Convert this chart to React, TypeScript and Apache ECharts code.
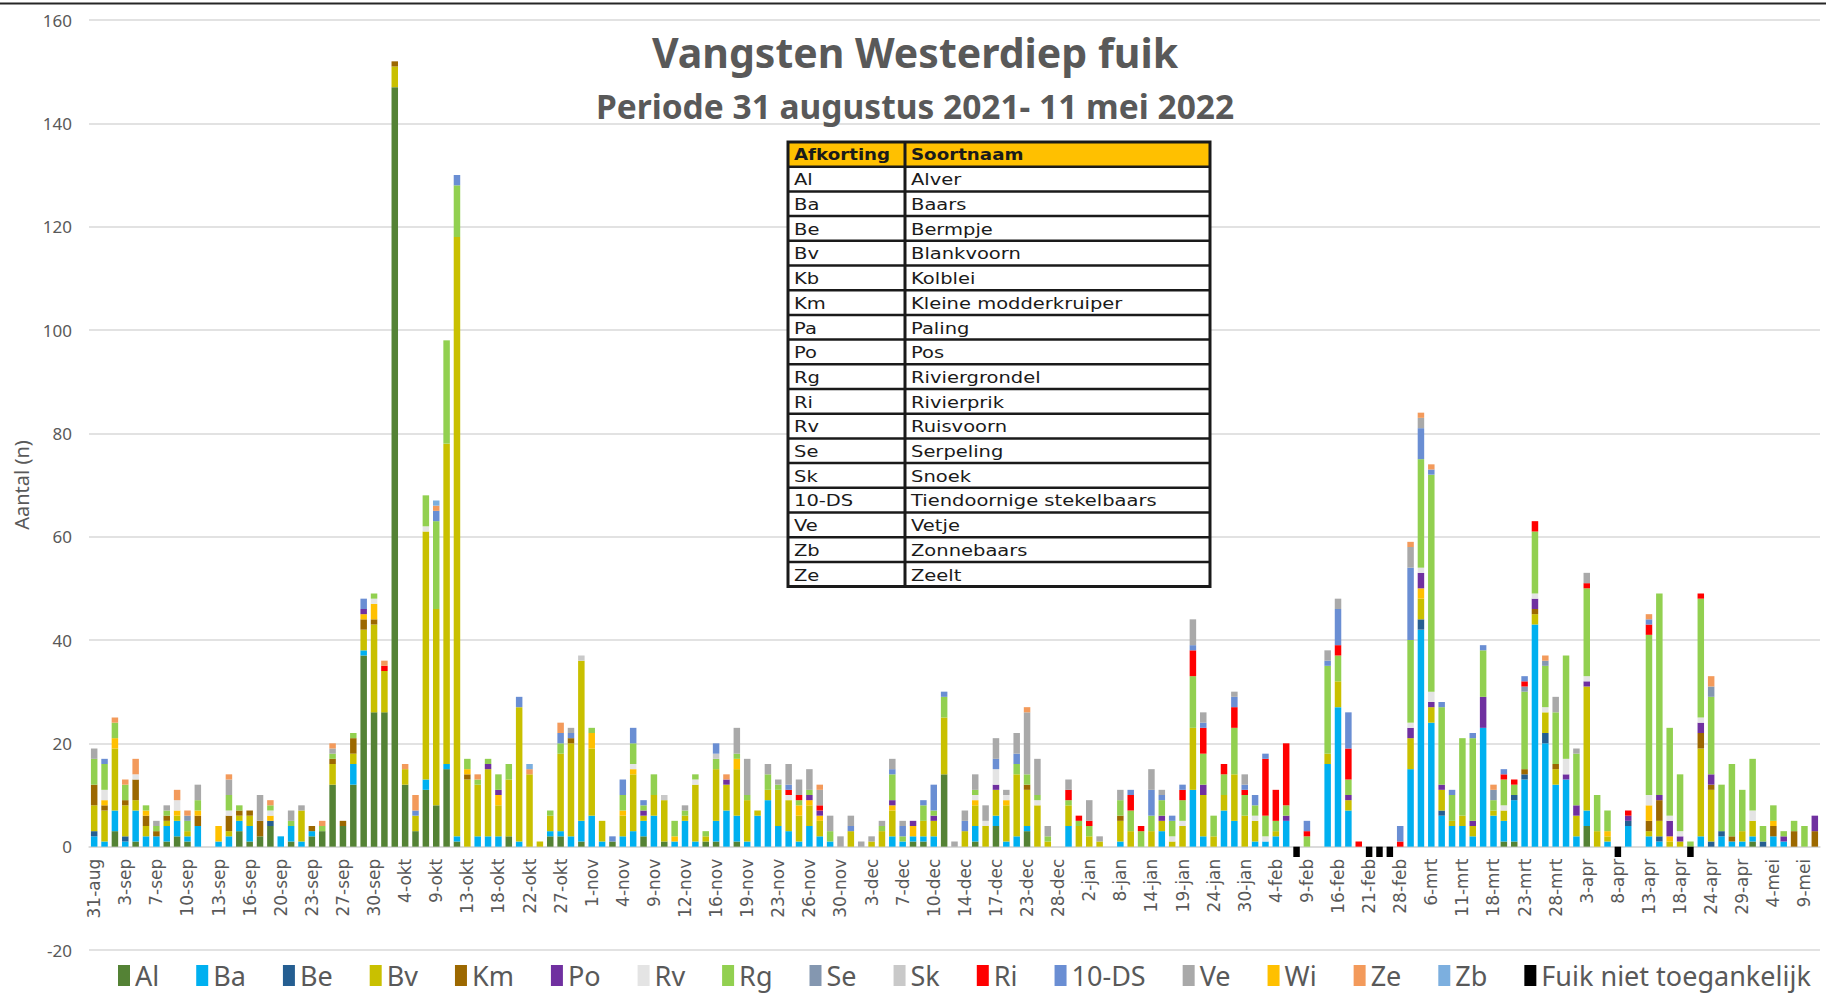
import React, { useEffect, useRef } from "react";
import * as echarts from "echarts";

// ---------- categories (sampling dates) ----------
const categories: string[] = [
  "31-aug", "1-sep", "2-sep", "3-sep", "5-sep", "6-sep", "7-sep", "8-sep", "9-sep", "10-sep", "11-sep", "12-sep",
  "13-sep", "14-sep", "15-sep", "16-sep", "17-sep", "19-sep", "20-sep", "21-sep", "22-sep", "23-sep", "24-sep", "26-sep",
  "27-sep", "28-sep", "29-sep", "30-sep", "1-okt", "3-okt", "4-okt", "6-okt", "8-okt", "9-okt", "11-okt", "12-okt",
  "13-okt", "15-okt", "17-okt", "18-okt", "19-okt", "21-okt", "22-okt", "24-okt", "26-okt", "27-okt", "29-okt", "31-okt",
  "1-nov", "2-nov", "3-nov", "4-nov", "6-nov", "8-nov", "9-nov", "10-nov", "11-nov", "12-nov", "14-nov", "15-nov",
  "16-nov", "17-nov", "18-nov", "19-nov", "21-nov", "22-nov", "23-nov", "24-nov", "25-nov", "26-nov", "28-nov", "29-nov",
  "30-nov", "1-dec", "2-dec", "3-dec", "5-dec", "6-dec", "7-dec", "8-dec", "9-dec", "10-dec", "12-dec", "13-dec",
  "14-dec", "15-dec", "16-dec", "17-dec", "20-dec", "22-dec", "23-dec", "26-dec", "27-dec", "28-dec", "30-dec", "31-dec",
  "2-jan", "4-jan", "6-jan", "8-jan", "10-jan", "12-jan", "14-jan", "16-jan", "17-jan", "19-jan", "21-jan", "22-jan",
  "24-jan", "26-jan", "28-jan", "30-jan", "1-feb", "3-feb", "4-feb", "6-feb", "7-feb", "9-feb", "12-feb", "14-feb",
  "16-feb", "18-feb", "20-feb", "21-feb", "23-feb", "25-feb", "28-feb", "2-mrt", "4-mrt", "6-mrt", "8-mrt", "10-mrt",
  "11-mrt", "14-mrt", "16-mrt", "18-mrt", "20-mrt", "21-mrt", "23-mrt", "25-mrt", "26-mrt", "28-mrt", "30-mrt", "1-apr",
  "3-apr", "5-apr", "6-apr", "8-apr", "10-apr", "12-apr", "13-apr", "15-apr", "16-apr", "18-apr", "20-apr", "22-apr",
  "24-apr", "26-apr", "27-apr", "29-apr", "1-mei", "3-mei", "4-mei", "6-mei", "8-mei", "9-mei", "11-mei",
];

// ---------- catches per species: [category index, count] ----------
const Al: [number, number][] = [
  [2, 3], [4, 1], [7, 1], [8, 2], [9, 1], [14, 3], [15, 1], [16, 2], [17, 4], [19, 1], [21, 2], [22, 3], [23, 12], [24, 4],
  [25, 12], [26, 37], [27, 26], [28, 26], [29, 147], [30, 12], [31, 3], [32, 11], [33, 8], [34, 15], [35, 1], [40, 2],
  [44, 2], [45, 2], [47, 1], [50, 1], [53, 2], [55, 1], [59, 1], [60, 1], [62, 1], [79, 1], [80, 1], [82, 14], [85, 1],
  [87, 4], [90, 3], [136, 1], [137, 1], [144, 4], [160, 1],
];
const Ba: [number, number][] = [
  [0, 2], [1, 1], [2, 4], [3, 1], [4, 6], [5, 2], [6, 2], [7, 3], [8, 3], [9, 1], [10, 4], [12, 1], [13, 2], [14, 2],
  [15, 3], [18, 2], [19, 3], [20, 1], [21, 1], [25, 4], [26, 1], [32, 2], [34, 1], [35, 1], [37, 2], [38, 2], [39, 2],
  [41, 1], [44, 1], [45, 1], [46, 2], [47, 4], [48, 6], [49, 1], [51, 2], [52, 3], [53, 3], [54, 6], [56, 1], [57, 5],
  [58, 1], [60, 4], [61, 7], [62, 5], [63, 1], [64, 6], [65, 9], [66, 4], [67, 3], [68, 1], [69, 4], [70, 2], [71, 1],
  [77, 2], [78, 1], [79, 1], [80, 1], [81, 2], [85, 3], [87, 2], [88, 1], [89, 2], [90, 1], [94, 4], [99, 1], [103, 3],
  [106, 11], [107, 2], [109, 7], [110, 5], [112, 1], [113, 1], [114, 2], [115, 5], [119, 16], [120, 27], [121, 7],
  [127, 15], [128, 42], [129, 24], [130, 6], [131, 4], [132, 4], [133, 2], [134, 23], [135, 6], [136, 4], [137, 8],
  [138, 13], [139, 43], [140, 20], [141, 12], [142, 13], [143, 2], [144, 3], [146, 1], [148, 4], [150, 2], [151, 1],
  [155, 2], [157, 2], [158, 1], [159, 1], [160, 1], [162, 2], [163, 1],
];
const Be: [number, number][] = [
  [0, 1], [3, 1], [17, 1], [128, 2], [130, 1], [137, 1], [138, 1], [140, 2], [148, 1], [151, 1], [156, 1], [157, 1], [161, 1],
];
const Bv: [number, number][] = [
  [0, 5], [1, 6], [2, 12], [3, 6], [4, 2], [5, 2], [7, 1], [8, 1], [9, 1], [13, 1], [14, 1], [15, 2], [20, 6], [23, 4],
  [25, 2], [26, 4], [27, 17], [28, 8], [29, 4], [30, 3], [31, 3], [32, 48], [33, 38], [34, 62], [35, 116], [36, 13],
  [37, 10], [38, 13], [39, 6], [40, 11], [41, 26], [42, 14], [43, 1], [44, 3], [45, 15], [46, 18], [47, 31], [48, 13],
  [49, 4], [51, 4], [52, 11], [53, 1], [54, 4], [55, 8], [57, 1], [58, 11], [59, 1], [60, 10], [61, 5], [62, 9], [63, 8],
  [64, 1], [65, 2], [66, 7], [67, 6], [68, 5], [69, 4], [70, 3], [73, 3], [75, 1], [76, 3], [77, 5], [80, 3], [81, 3],
  [82, 11], [84, 3], [85, 4], [86, 4], [87, 5], [88, 7], [89, 12], [90, 7], [91, 8], [92, 1], [94, 4], [95, 4], [96, 2],
  [97, 1], [99, 4], [100, 3], [102, 3], [103, 2], [104, 1], [105, 4], [106, 12], [107, 8], [108, 2], [109, 3], [110, 9],
  [111, 6], [112, 4], [114, 1], [119, 2], [120, 5], [121, 2], [127, 6], [128, 4], [129, 3], [130, 4], [131, 1], [132, 2],
  [133, 2], [135, 1], [136, 2], [139, 2], [140, 4], [141, 3], [143, 4], [144, 24], [145, 3], [146, 1], [150, 1], [151, 3],
  [152, 1], [153, 1], [155, 17], [156, 10], [159, 2], [160, 3],
];
const Km: [number, number][] = [
  [0, 4], [1, 1], [3, 1], [4, 4], [5, 2], [6, 1], [7, 1], [10, 2], [13, 3], [14, 1], [15, 1], [16, 3], [21, 1], [23, 1],
  [24, 1], [25, 3], [26, 2], [27, 1], [29, 1], [36, 1], [46, 1], [90, 1], [99, 1], [138, 1], [139, 1], [141, 1], [150, 2],
  [151, 4], [155, 3], [156, 1], [158, 1], [162, 2], [164, 3], [166, 3],
];
const Wi: [number, number][] = [
  [1, 1], [2, 2], [5, 1], [8, 1], [10, 1], [12, 3], [17, 1], [26, 1], [27, 3], [36, 1], [39, 2], [48, 3], [51, 1], [52, 1],
  [56, 1], [62, 2], [68, 2], [69, 1], [70, 1], [77, 1], [79, 2], [85, 1], [88, 1], [128, 2], [146, 1], [150, 3], [152, 1],
  [162, 1],
];
const Po: [number, number][] = [
  [26, 1], [38, 1], [39, 1], [53, 1], [61, 1], [69, 1], [70, 1], [77, 1], [79, 1], [81, 1], [87, 1], [103, 1], [107, 2],
  [115, 1], [121, 1], [127, 2], [128, 3], [129, 1], [130, 1], [133, 1], [134, 6], [139, 2], [142, 1], [143, 2], [144, 1],
  [148, 1], [151, 1], [152, 3], [153, 1], [155, 2], [156, 2], [163, 1], [166, 3],
];
const Rv: [number, number][] = [
  [1, 2], [4, 1], [8, 2], [13, 1], [17, 1], [27, 1], [32, 1], [52, 1], [58, 1], [67, 1], [85, 1], [86, 1], [87, 3], [88, 1],
  [91, 1], [104, 1], [105, 1], [112, 1], [113, 1], [127, 1], [128, 1], [129, 2], [136, 1], [139, 1], [140, 1], [142, 3],
  [144, 1], [150, 2], [152, 1], [153, 1], [155, 1], [160, 2],
];
const Rg: [number, number][] = [
  [0, 5], [1, 5], [2, 3], [3, 3], [5, 1], [6, 1], [7, 1], [9, 2], [10, 2], [13, 3], [14, 1], [17, 1], [19, 1], [22, 1],
  [23, 1], [25, 1], [27, 1], [32, 6], [33, 17], [34, 20], [35, 10], [36, 2], [37, 1], [38, 1], [39, 3], [40, 3], [44, 1],
  [45, 2], [48, 1], [51, 3], [52, 4], [53, 1], [54, 4], [56, 3], [57, 1], [58, 1], [59, 1], [60, 2], [62, 1], [63, 1],
  [65, 3], [66, 1], [68, 1], [69, 1], [71, 2], [76, 1], [77, 5], [78, 1], [80, 3], [81, 1], [82, 4], [85, 1], [89, 2],
  [90, 2], [91, 1], [92, 1], [94, 1], [95, 1], [96, 2], [99, 3], [100, 4], [101, 3], [102, 3], [103, 3], [104, 3],
  [105, 4], [106, 10], [107, 6], [108, 4], [109, 4], [110, 9], [111, 4], [112, 2], [113, 4], [114, 2], [115, 2], [117, 2],
  [119, 17], [120, 5], [121, 3], [127, 16], [128, 21], [129, 42], [130, 15], [131, 5], [132, 15], [133, 16], [134, 9],
  [135, 2], [136, 5], [137, 2], [138, 15], [139, 12], [140, 8], [141, 10], [142, 20], [143, 10], [144, 17], [145, 7],
  [146, 4], [150, 31], [151, 39], [152, 17], [153, 11], [154, 1], [155, 23], [156, 15], [157, 9], [158, 14], [159, 8],
  [160, 10], [161, 3], [162, 3], [163, 1], [164, 2], [165, 4],
];
const Se: [number, number][] = [[9, 1], [135, 2], [138, 1], [140, 1], [156, 2]];
const Sk: [number, number][] = [[47, 1], [55, 1], [60, 1]];
const Ri: [number, number][] = [
  [28, 1], [67, 1], [68, 1], [70, 1], [94, 2], [95, 1], [96, 1], [100, 3], [101, 1], [105, 2], [106, 5], [107, 5], [109, 2],
  [110, 4], [111, 1], [113, 11], [114, 6], [115, 12], [117, 1], [120, 2], [121, 6], [122, 1], [126, 1], [136, 1], [137, 1],
  [138, 1], [139, 2], [144, 1], [148, 1], [150, 2], [155, 1],
];
const DS: [number, number][] = [
  [1, 1], [26, 2], [31, 1], [33, 2], [35, 2], [41, 2], [45, 2], [46, 1], [50, 1], [51, 3], [52, 3], [53, 1], [60, 2],
  [67, 1], [73, 1], [77, 1], [78, 2], [80, 1], [81, 5], [82, 1], [84, 2], [87, 2], [89, 2], [100, 1], [102, 5], [103, 1],
  [104, 1], [105, 1], [106, 1], [107, 1], [110, 2], [111, 1], [112, 2], [113, 1], [117, 2], [119, 1], [120, 7], [121, 7],
  [126, 3], [127, 14], [128, 6], [129, 1], [130, 1], [131, 1], [133, 1], [134, 1], [136, 1], [138, 1], [150, 1],
];
const Ve: [number, number][] = [
  [0, 2], [6, 1], [7, 1], [10, 3], [13, 3], [16, 5], [19, 2], [20, 1], [23, 1], [46, 1], [57, 1], [62, 5], [63, 7], [65, 2],
  [66, 1], [67, 4], [68, 3], [69, 4], [70, 3], [71, 3], [72, 2], [73, 2], [74, 1], [75, 1], [76, 1], [77, 2], [78, 1],
  [83, 1], [84, 2], [85, 3], [86, 3], [87, 4], [88, 1], [89, 4], [90, 12], [91, 7], [92, 2], [94, 2], [96, 4], [97, 1],
  [99, 2], [102, 4], [103, 1], [106, 5], [107, 2], [110, 1], [111, 2], [119, 2], [120, 2], [127, 4], [128, 2], [141, 3],
  [143, 1], [144, 2],
];
const Ze: [number, number][] = [
  [2, 1], [3, 1], [4, 3], [8, 2], [9, 1], [13, 1], [17, 1], [22, 1], [23, 1], [28, 1], [30, 1], [31, 3], [33, 1], [37, 1],
  [42, 1], [45, 2], [61, 1], [70, 1], [90, 1], [127, 1], [128, 1], [129, 1], [135, 1], [140, 1], [150, 1], [156, 2],
];
const Zb: [number, number][] = [[33, 1], [42, 1]];
// trap not accessible (drawn below zero)
const Fuik: [number, number][] = [[116, -2], [123, -2], [124, -2], [125, -2], [147, -2], [154, -2]];

// ---------- table ----------
const tableHeader = ["Afkorting", "Soortnaam"];
const tableAbbr = ["Al", "Ba", "Be", "Bv", "Kb", "Km", "Pa", "Po", "Rg", "Ri", "Rv", "Se", "Sk", "10-DS", "Ve", "Zb", "Ze"];
const tableNames = [
  "Alver", "Baars", "Bermpje", "Blankvoorn", "Kolblei", "Kleine modderkruiper", "Paling", "Pos", "Riviergrondel",
  "Rivierprik", "Ruisvoorn", "Serpeling", "Snoek", "Tiendoornige stekelbaars", "Vetje", "Zonnebaars", "Zeelt",
];

const titleText = "Vangsten Westerdiep fuik";
const subtitleText = "Periode 31 augustus 2021- 11 mei 2022";

// stack order (bottom to top) and legend order
const stackSeries: { name: string; data: [number, number][]; color: string }[] = [
  { name: "Al", data: Al, color: "#548235" },
  { name: "Ba", data: Ba, color: "#00B0F0" },
  { name: "Be", data: Be, color: "#255E91" },
  { name: "Bv", data: Bv, color: "#C9C000" },
  { name: "Km", data: Km, color: "#9C6800" },
  { name: "Wi", data: Wi, color: "#FFC000" },
  { name: "Po", data: Po, color: "#7030A0" },
  { name: "Rv", data: Rv, color: "#E4E4E4" },
  { name: "Rg", data: Rg, color: "#92D050" },
  { name: "Se", data: Se, color: "#8497B0" },
  { name: "Sk", data: Sk, color: "#C9C9C9" },
  { name: "Ri", data: Ri, color: "#FF0000" },
  { name: "10-DS", data: DS, color: "#6A8ED3" },
  { name: "Ve", data: Ve, color: "#A9A9A9" },
  { name: "Ze", data: Ze, color: "#F39A5B" },
  { name: "Zb", data: Zb, color: "#7CAFDF" },
  { name: "Fuik niet toegankelijk", data: Fuik, color: "#000000" },
];
const legendOrder = [
  "Al", "Ba", "Be", "Bv", "Km", "Po", "Rv", "Rg", "Se", "Sk", "Ri", "10-DS", "Ve", "Wi", "Ze", "Zb",
  "Fuik niet toegankelijk",
];

function toDense(pairs: [number, number][]): number[] {
  const arr = categories.map(() => 0);
  pairs.forEach(([i, v]) => {
    arr[i] = v;
  });
  return arr;
}

function buildTable(): any[] {
  const x0 = 788;
  const x1 = 905;
  const x2 = 1210;
  const y0 = 142;
  const rh = 24.7;
  const nRows = tableAbbr.length + 1;
  const y1 = y0 + nRows * rh;
  const els: any[] = [];
  els.push({ type: "rect", z: 100, shape: { x: x0, y: y0, width: x2 - x0, height: y1 - y0 }, style: { fill: "#ffffff" } });
  els.push({ type: "rect", z: 101, shape: { x: x0, y: y0, width: x2 - x0, height: rh }, style: { fill: "#FFC000" } });
  for (let r = 1; r < nRows; r++) {
    const y = y0 + r * rh;
    els.push({ type: "line", z: 102, shape: { x1: x0, y1: y, x2: x2, y2: y }, style: { stroke: "#1a1a1a", lineWidth: 2.5 } });
  }
  els.push({ type: "line", z: 102, shape: { x1: x1, y1: y0, x2: x1, y2: y1 }, style: { stroke: "#1a1a1a", lineWidth: 3 } });
  els.push({
    type: "rect", z: 103, shape: { x: x0, y: y0, width: x2 - x0, height: y1 - y0 },
    style: { fill: "none", stroke: "#1a1a1a", lineWidth: 3 },
  });
  const rows = [tableHeader, ...tableAbbr.map((a, i) => [a, tableNames[i]])];
  rows.forEach((row, r) => {
    const yc = y0 + r * rh + rh / 2 + 0.5;
    const bold = r === 0;
    [x0 + 6, x1 + 6].forEach((tx, c) => {
      els.push({
        type: "text", z: 104, x: tx, y: yc, scaleX: bold ? 1.14 : 1.22,
        style: {
          text: row[c], fill: "#1a1a1a", fontSize: 16, fontFamily: "DejaVu Sans",
          fontWeight: bold ? "bold" : "normal", align: "left", verticalAlign: "middle",
        },
      });
    });
  });
  return els;
}

export default function App() {
  const ref = useRef<HTMLDivElement>(null);
  useEffect(() => {
    document.body.style.margin = "0";
    document.body.style.background = "#ffffff";
    if (!ref.current) return;
    const chart = echarts.init(ref.current, undefined, { renderer: "svg" });
    const option: any = {
      animation: false,
      backgroundColor: "#ffffff",
      grid: { left: 89, right: 6, top: 20, bottom: 50, containLabel: false, outerBoundsMode: "none" },
      legend: {
        data: legendOrder,
        left: 113,
        top: 957,
        icon: "rect",
        itemWidth: 12,
        itemHeight: 21,
        itemGap: 37,
        textStyle: { fontFamily: "Noto Sans", fontSize: 27, color: "#595959" },
      },
      xAxis: {
        type: "category",
        data: categories,
        offset: -103.3,
        axisLine: { onZero: false, lineStyle: { color: "#D9D9D9", width: 1.5 } },
        axisTick: { show: false },
        axisLabel: {
          interval: 2,
          rotate: 90,
          margin: 12,
          fontSize: 17,
          color: "#595959",
          fontFamily: "DejaVu Sans",
        },
      },
      yAxis: {
        type: "value",
        min: -20,
        max: 160,
        interval: 20,
        name: "Aantal (n)",
        nameLocation: "middle",
        nameGap: 58,
        nameTextStyle: { fontSize: 20, color: "#595959", fontFamily: "Noto Sans" },
        axisLine: { show: false },
        axisTick: { show: false },
        axisLabel: { fontSize: 17, color: "#595959", margin: 17, fontFamily: "Noto Sans" },
        splitLine: { lineStyle: { color: "#D9D9D9", width: 1.5 } },
      },
      series: stackSeries.map((s) => ({
        type: "bar",
        name: s.name,
        stack: "total",
        barWidth: 6.5,
        data: toDense(s.data),
        itemStyle: { color: s.color },
      })),
      graphic: [
        { type: "rect", z: 100, shape: { x: 0, y: 2.5, width: 1826, height: 2 }, style: { fill: "#262626" } },
        {
          type: "text", z: 100, x: 915, y: 52,
          style: {
            text: titleText, fill: "#595959", fontSize: 41, fontWeight: "bold", fontFamily: "Noto Sans",
            align: "center", verticalAlign: "middle",
          },
        },
        {
          type: "text", z: 100, x: 915, y: 106,
          style: {
            text: subtitleText, fill: "#595959", fontSize: 33.5, fontWeight: "bold", fontFamily: "Noto Sans",
            align: "center", verticalAlign: "middle",
          },
        },
        ...buildTable(),
      ],
    };
    chart.setOption(option);
    return () => chart.dispose();
  }, []);
  return <div ref={ref} style={{ width: 1826, height: 1000 }} />;
}
